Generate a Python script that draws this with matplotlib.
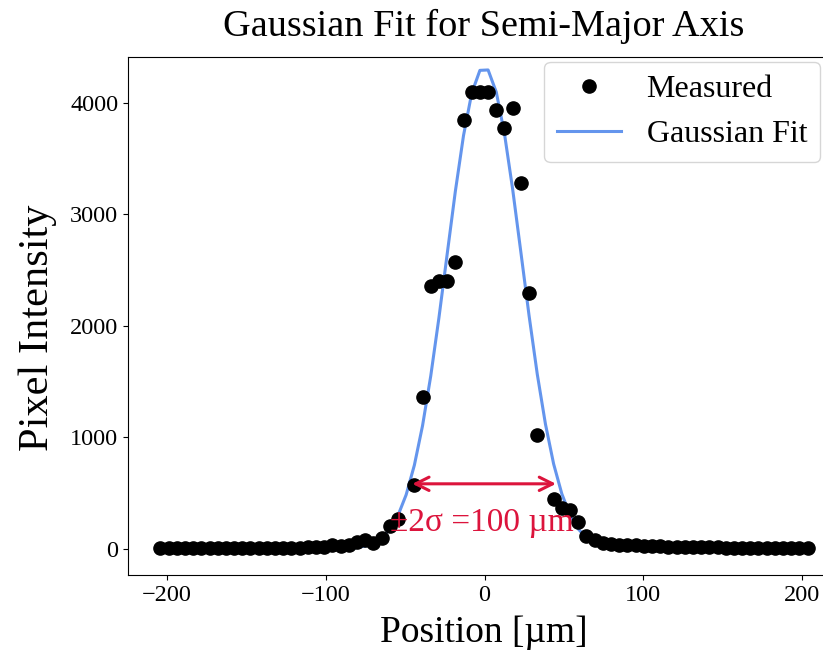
import numpy as np
import matplotlib
matplotlib.use("Agg")
import matplotlib.pyplot as plt

plt.rcParams['font.family'] = ['Liberation Serif', 'DejaVu Serif']
plt.rcParams['mathtext.fontset'] = 'stix'

# Sample index (relative to peak) and pixel pitch in micrometres
sample_index = np.arange(-39, 41)
pixel_pitch = 5.16
position_offset = -2.97
position = np.round(sample_index * pixel_pitch + position_offset, 2)

# Measured pixel intensity per sample
intensity = [
    8, 8, 8, 8, 8, 8, 8, 8, 8, 8,              # k=-39..-30
    9, 9, 9, 10, 10, 10, 11, 12, 14, 16,       # k=-29..-20
    20, 35, 30, 40, 62, 78, 58, 95, 206, 272,  # k=-19..-10
    np.nan, 574, 1363, 2361, 2400, 2400, 2574, 3848, 4096, 4096,   # k=-9..0
    4096, 3934, 3773, 3958, 3279, 2296, 1025, np.nan, 446, 365,    # k=1..10
    350, 240, 117, 81, 50, 42, 38, 35, 32, 28,                     # k=11..20
    26, 24, 22, 20, 18, 17, 16, 15, 14, 13,                        # k=21..30
    12, 11, 10, 10, 9, 9, 8, 8, 8, 8,                              # k=31..40
]

# Gaussian fit parameters
fit_amplitude = 4320.0
fit_center = -0.3
fit_sigma = 23.5
fit_offset = 0.0

fit_curve = fit_amplitude * np.exp(-(position - fit_center) ** 2 / (2 * fit_sigma ** 2)) + fit_offset

fig = plt.figure(figsize=(8.23, 6.51), dpi=100)
ax = fig.add_axes([128 / 823, 1 - 575 / 651, 712 / 823, 518 / 651])

ax.plot(position, intensity, 'o', color='black', markersize=9.5, label='Measured', zorder=3)
ax.plot(position, fit_curve, '-', color='#6495ED', linewidth=2.2, label='Gaussian Fit', zorder=2)

x_left = fit_center - 2 * fit_sigma
x_right = fit_center + 2 * fit_sigma
y_arrow = fit_amplitude * np.exp(-2.0) + fit_offset
ax.annotate('', xy=(x_right, y_arrow), xytext=(x_left, y_arrow),
            arrowprops=dict(arrowstyle='<->', color='#DC143C', lw=2.2, mutation_scale=24), zorder=4)
ax.text(fit_center - 1.5, y_arrow - 345, '±2σ =100 µm', color='#DC143C', fontsize=24,
        ha='center', va='center', zorder=5)

ax.set_ylim(-233, 4412)
ax.set_xticks([-200, -100, 0, 100, 200])
ax.set_yticks([0, 1000, 2000, 3000, 4000])
ax.tick_params(labelsize=17.5)
ax.set_xlabel('Position [µm]', fontsize=27, labelpad=7)
ax.set_ylabel('Pixel Intensity', fontsize=30.5)
ax.yaxis.set_label_coords(-0.1, 0.477)
ax.set_title('Gaussian Fit for Semi-Major Axis', fontsize=27.5, pad=15)
ax.legend(loc='upper right', fontsize=23, bbox_to_anchor=(820 / 823, 1 - 62 / 651),
          bbox_transform=fig.transFigure, borderaxespad=0)

fig.savefig('out.png', dpi=100)
